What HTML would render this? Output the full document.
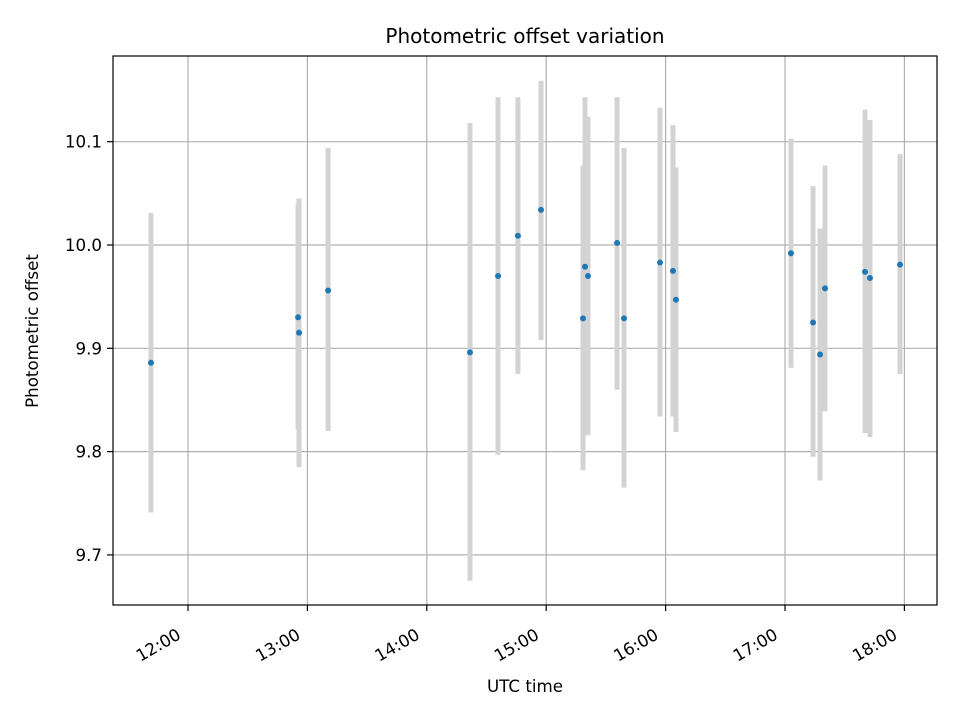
<!DOCTYPE html>
<html><head><meta charset="utf-8"><style>
body{margin:0;background:#fff;}
svg{display:block;font-family:"DejaVu Sans","Liberation Sans",sans-serif;}
</style></head><body>
<svg id="chart" width="960" height="720" viewBox="0 0 960 720"></svg>
<script>
// minutes since midnight UTC
const times = [701.4,775.3,775.8,790.4,861.7,875.8,885.8,897.4,918.5,919.5,921.0,935.6,939.1,957.2,963.7,965.2,1023.0,1034.1,1037.6,1040.1,1060.2,1062.7,1077.8];
const values = [9.886,9.930,9.915,9.956,9.896,9.970,10.009,10.034,9.929,9.979,9.970,10.002,9.929,9.983,9.975,9.947,9.992,9.925,9.894,9.958,9.974,9.968,9.981];
const highs = [10.031,10.040,10.045,10.094,10.118,10.143,10.143,10.159,10.077,10.143,10.124,10.143,10.094,10.133,10.116,10.075,10.103,10.057,10.016,10.077,10.131,10.121,10.088];
const lows = [9.741,9.821,9.785,9.820,9.675,9.797,9.875,9.908,9.782,9.816,9.816,9.860,9.765,9.834,9.834,9.819,9.881,9.795,9.772,9.839,9.818,9.814,9.875];
const xTicks = [720,780,840,900,960,1020,1080];
const xTickLabels = ["12:00","13:00","14:00","15:00","16:00","17:00","18:00"];
const yTicks = [9.7,9.8,9.9,10.0,10.1];
const yTickLabels = ["9.7","9.8","9.9","10.0","10.1"];

const L=113,R=937,T=56,B=605;
const xs = m => 188 + (m-720)*119.4/60;
const ys = v => 245 - (v-10.0)*1033;
const svg=document.getElementById('chart');
const NS='http://www.w3.org/2000/svg';
function mk(tag,attrs,parent){const e=document.createElementNS(NS,tag);for(const k in attrs)e.setAttribute(k,attrs[k]);(parent||svg).appendChild(e);return e;}

const grid=mk('g',{});


xTicks.forEach(t=>{const l=mk('line',{x1:xs(t),x2:xs(t),y1:T,y2:B,stroke:'#b0b0b0','stroke-width':1.2},grid);

});
yTicks.forEach(t=>{const l=mk('line',{x1:L,x2:R,y1:ys(t),y2:ys(t),stroke:'#b0b0b0','stroke-width':1.2},grid);

});

const eb=mk('g',{});


times.forEach((t,i)=>{const l=mk('line',{x1:xs(t),x2:xs(t),y1:ys(highs[i]),y2:ys(lows[i]),stroke:'#d3d3d3','stroke-width':5},eb);

});

const pts=mk('g',{});


times.forEach((t,i)=>{const c=mk('circle',{cx:xs(t),cy:ys(values[i]),r:3,fill:'#1f77b4'},pts);

});

const frame=mk('rect',{x:L,y:T,width:R-L,height:B-T,fill:'none',stroke:'#000','stroke-width':1.2});



xTicks.forEach((t,i)=>{const x=xs(t);
mk('line',{x1:x,x2:x,y1:B,y2:B+6,stroke:'#000','stroke-width':1.2});
const px=x-6, py=B+33;
const tx=mk('text',{x:px,y:py,'font-size':16.7,'text-anchor':'end',transform:`rotate(-30 ${px} ${py})`});
tx.textContent=xTickLabels[i];

});
yTicks.forEach((t,i)=>{const y=ys(t);
mk('line',{x1:L-6,x2:L,y1:y,y2:y,stroke:'#000','stroke-width':1.2});
const tx=mk('text',{x:L-11,y:y+6,'font-size':16.7,'text-anchor':'end'});
tx.textContent=yTickLabels[i];

});

const title=mk('text',{x:525,y:43,'font-size':20,'text-anchor':'middle'});
title.textContent='Photometric offset variation';


const xt=mk('text',{x:525,y:692,'font-size':16.7,'text-anchor':'middle'});
xt.textContent='UTC time';


const yt=mk('text',{x:38,y:331,'font-size':16.7,'text-anchor':'middle',transform:'rotate(-90 38 331)'});
yt.textContent='Photometric offset';


</script>
</body></html>
